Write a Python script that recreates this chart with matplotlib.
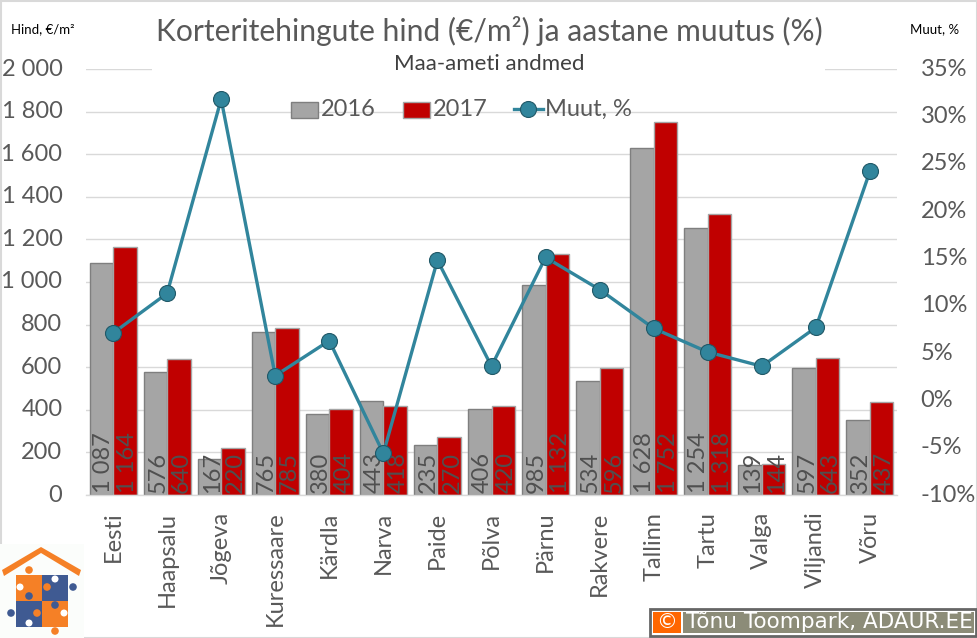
import matplotlib
matplotlib.use('Agg')
import matplotlib.pyplot as plt
from matplotlib.patches import Rectangle, Circle, Polygon
from matplotlib.ticker import FuncFormatter
from matplotlib.transforms import ScaledTranslation

plt.rcParams['font.family'] = ['Lato', 'DejaVu Sans']

cities = ['Eesti', 'Haapsalu', 'Jõgeva', 'Kuressaare', 'Kärdla', 'Narva', 'Paide', 'Põlva',
          'Pärnu', 'Rakvere', 'Tallinn', 'Tartu', 'Valga', 'Viljandi', 'Võru']
price2016 = [1087, 576, 167, 765, 380, 443, 235, 406, 985, 534, 1628, 1254, 139, 597, 352]
price2017 = [1164, 640, 220, 785, 404, 418, 270, 420, 1132, 596, 1752, 1318, 144, 643, 437]
change = [7.1, 11.3, 31.8, 2.6, 6.3, -5.6, 14.8, 3.6, 15.1, 11.7, 7.6, 5.1, 3.6, 7.7, 24.2]

W, H = 977, 638
TXT = '#595959'
GRID = '#d9d9d9'
x = list(range(len(cities)))
bw = 0.435

fig = plt.figure(figsize=(W / 100, H / 100), dpi=100)
ax = fig.add_axes([86 / W, 1 - 495 / H, (897 - 86) / W, (495 - 69) / H])


def thousands(v, pos):
    return '{:,.0f}'.format(v).replace(',', ' ')


# Bars and their labels
ax.bar([i - bw / 2 for i in x], price2016, bw, color='#a5a5a5', edgecolor='#7f7f7f', lw=1, label='2016', zorder=2)
ax.bar([i + bw / 2 for i in x], price2017, bw, color='#c00000', edgecolor='#a5a5a5', lw=1, label='2017', zorder=2)
for i in x:
    ax.text(i - bw / 2 + 0.05, 8, thousands(price2016[i], 0), rotation=90, ha='center', va='bottom',
            fontsize=17, color='#505050', zorder=3)
    ax.text(i + bw / 2 + 0.05, 8, thousands(price2017[i], 0), rotation=90, ha='center', va='bottom',
            fontsize=17, color='#505050', zorder=3)

ax.set_xlim(-0.5, len(cities) - 0.5)
ax.set_ylim(0, 2000)
ax.set_yticks(range(0, 2001, 200))
ax.yaxis.set_major_formatter(FuncFormatter(thousands))
ax.set_xticks(x)
ax.set_xticklabels(cities, rotation=90, fontsize=17, color=TXT)
ax.tick_params(axis='x', length=0, pad=12)
ax.tick_params(axis='y', length=0, pad=17, labelsize=17, labelcolor=TXT)
ax.grid(axis='y', color=GRID, lw=1, zorder=0)
ax.set_axisbelow(True)
for s in ['top', 'left', 'right']:
    ax.spines[s].set_visible(False)
ax.spines['bottom'].set_color(GRID)
ax.spines['bottom'].set_linewidth(1)

# Change line on the right axis
ax2 = ax.twinx()
ax2.plot(x, change, color='#31859c', lw=2.4, marker='o', ms=11.5, mfc='#31859c', mec='#205867', mew=0.8,
         label='Muut, %', zorder=5)
ax2.set_ylim(-10, 35)
ax2.set_yticks(range(-10, 36, 5))
ax2.yaxis.set_major_formatter(FuncFormatter(lambda v, pos: '{:.0f}%'.format(v)))
ax2.tick_params(axis='y', length=0, pad=17, labelsize=17, labelcolor=TXT)
for s in ax2.spines.values():
    s.set_visible(False)

# Tick labels sit a little above their gridlines
nudge = ScaledTranslation(0, 2 / 100, fig.dpi_scale_trans)
for lab in ax.get_yticklabels() + ax2.get_yticklabels():
    lab.set_transform(lab.get_transform() + nudge)

# Overlay in pixel coordinates for the texts, legend, logo and frame
ov = fig.add_axes([0, 0, 1, 1], zorder=10)
ov.set_xlim(0, W)
ov.set_ylim(H, 0)
ov.axis('off')
ov.patch.set_alpha(0)

ov.add_patch(Rectangle((0.5, 0.5), W - 1, H - 1, fc='none', ec='#d9d9d9', lw=1.5))
ov.add_patch(Rectangle((152, 60), 673, 18, fc='white', ec='none'))

ov.text(489, 31, 'Korteritehingute hind (€/m²) ja aastane muutus (%)', ha='center', va='center',
        fontsize=21.6, color=TXT)
ov.text(489, 64, 'Maa-ameti andmed', ha='center', va='center', fontsize=16, color='#404040')
ov.text(43, 29, 'Hind, €/m²', ha='center', va='center', fontsize=9.5, color='black')
ov.text(935, 29, 'Muut, %', ha='center', va='center', fontsize=9.5, color='black')

# Legend
ov.add_patch(Rectangle((291, 102), 27, 16, fc='#a5a5a5', ec='#7f7f7f', lw=1))
ov.text(321, 109, '2016', va='center', fontsize=17, color=TXT)
ov.add_patch(Rectangle((403, 102), 27, 16, fc='#c00000', ec='#a5a5a5', lw=1))
ov.text(433, 109, '2017', va='center', fontsize=17, color=TXT)
ov.plot([514, 543], [109, 109], color='#31859c', lw=2.4)
ov.plot([528], [109], marker='o', ms=11.5, mfc='#31859c', mec='#205867', mew=0.8)
ov.text(545, 109, 'Muut, %', va='center', fontsize=17, color=TXT)

# Logo
ORANGE = '#f58026'
BLUE = '#3f5a92'
ov.add_patch(Rectangle((0, 544), 84, 94, fc='#fbfdfb', ec='none'))
ov.add_patch(Polygon([(2, 570), (41, 547), (81, 570), (79, 576), (41, 553), (4, 576)], fc=ORANGE, ec='none'))
ov.add_patch(Rectangle((16, 575), 26, 26, fc=ORANGE, ec='none'))
ov.add_patch(Rectangle((42, 575), 26, 26, fc=BLUE, ec='none'))
ov.add_patch(Rectangle((16, 601), 26, 26, fc=BLUE, ec='none'))
ov.add_patch(Rectangle((42, 601), 26, 26, fc=ORANGE, ec='none'))
for cx, cy, col in [(29, 570, ORANGE), (73, 587, BLUE), (11, 613, BLUE), (55, 631, ORANGE),
                    (29, 596, BLUE), (55, 605, BLUE), (47, 587, ORANGE), (37, 613, ORANGE)]:
    ov.add_patch(Circle((cx, cy), 3.8, fc=col, ec='none'))
for cx, cy in [(20, 587), (55, 579), (64, 613), (29, 623)]:
    ov.add_patch(Circle((cx, cy), 3.5, fc='white', ec='none'))

# Copyright box
ov.add_patch(Rectangle((650, 609), 326, 27, fc='white', ec='#666666', lw=2))
ov.add_patch(Rectangle((683, 612), 291, 21, fc='#8c8c78', ec='none'))
ov.add_patch(Rectangle((653, 612), 28, 21, fc='#ff6600', ec='none'))
ov.text(667, 622, '©', ha='center', va='center', fontsize=15, color='white', family=['DejaVu Sans'])
ov.text(829, 622, 'Tõnu Toompark, ADAUR.EE', ha='center', va='center', fontsize=15.5, color='white',
        family=['DejaVu Sans'])

fig.savefig('out.png', dpi=100)
